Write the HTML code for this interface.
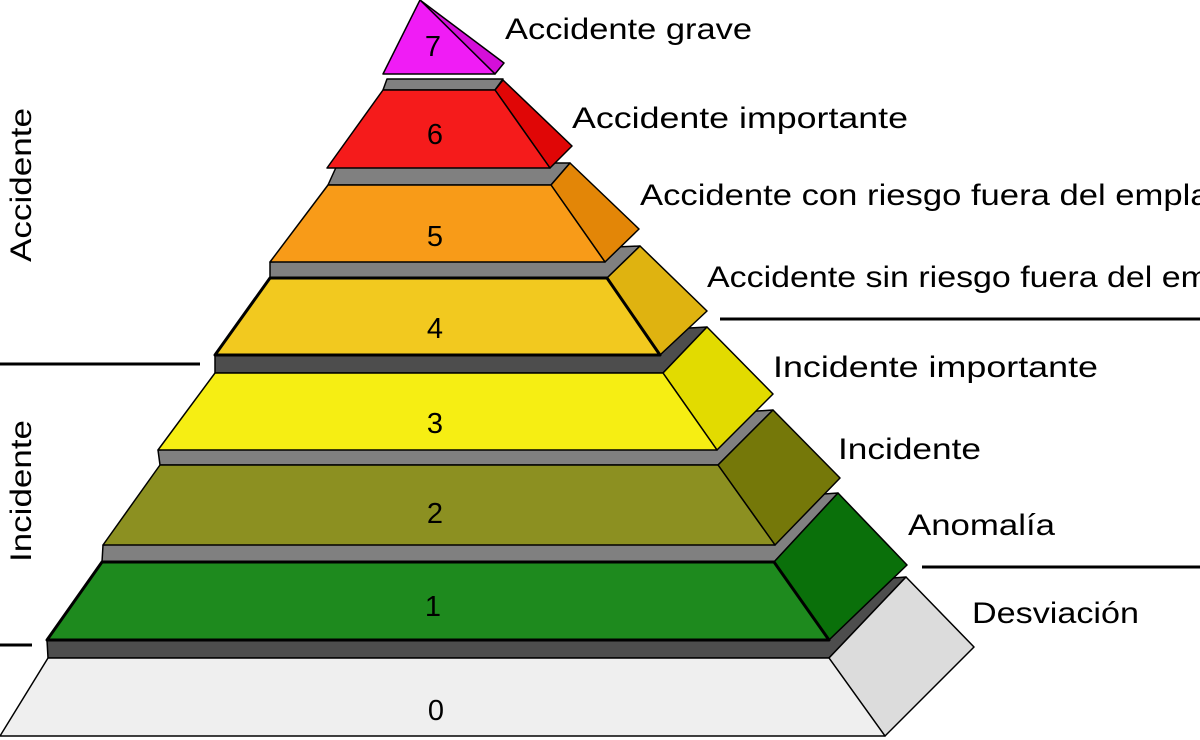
<!DOCTYPE html>
<html><head><meta charset="utf-8"><style>
html,body{margin:0;padding:0;background:#fff;}
svg{display:block;}
text{font-family:"Liberation Sans",sans-serif;fill:#000;}
</style></head><body>
<svg width="1200" height="740" viewBox="0 0 1200 740" xmlns="http://www.w3.org/2000/svg">
<g stroke="#000" stroke-width="1.5" stroke-linejoin="round">
<polygon points="48,658 829,658 906,577 47,640" fill="#4d4d4d"/>
<polygon points="829,658 885,736 974,647 906,577" fill="#dcdcdc"/>
<polygon points="48,658 829,658 885,736 0,736" fill="#efefef"/>
<polygon points="102,562 774,562 838,493 103,545" fill="#808080"/>
<polygon points="774,562 829,640 907,565 838,493" fill="#0a700a"/>
<polygon points="102,562 774,562 829,640 47,640" fill="#1e8a1e" stroke-width="3"/>
<polygon points="160,465 718,465 773,410 158,450" fill="#808080"/>
<polygon points="718,465 775,545 840,478 773,410" fill="#757809"/>
<polygon points="160,465 718,465 775,545 103,545" fill="#8c9021"/>
<polygon points="215,373 663,373 707,327 215,355" fill="#4d4d4d"/>
<polygon points="663,373 717,450 773,394 707,327" fill="#e2db00"/>
<polygon points="215,373 663,373 717,450 158,450" fill="#f6ee13"/>
<polygon points="270,278 607,278 640,246 270,262" fill="#808080"/>
<polygon points="607,278 660,355 707,311 640,246" fill="#dfb310"/>
<polygon points="270,278 607,278 660,355 215,355" fill="#f2c91f" stroke-width="3"/>
<polygon points="328,185 551,185 570,163 338,163" fill="#808080"/>
<polygon points="551,185 605,262 639,229 570,163" fill="#e38607"/>
<polygon points="328,185 551,185 605,262 270,262" fill="#f89b18"/>
<polygon points="383,90 495,90 503,79 387,79" fill="#808080"/>
<polygon points="495,90 550,168 572,146 503,80" fill="#e00606"/>
<polygon points="383,90 495,90 550,168 327,168" fill="#f51b1b"/>
<polygon points="420,0 495,74 504,63" fill="#d40fd8"/>
<polygon points="420,0 495,74 383,74" fill="#f01cf5"/>
</g>
<g font-size="29" text-anchor="middle">
<text x="433" y="56">7</text>
<text x="435" y="144">6</text>
<text x="435" y="246">5</text>
<text x="435" y="338">4</text>
<text x="435" y="433">3</text>
<text x="435" y="523">2</text>
<text x="433" y="616">1</text>
<text x="436" y="720">0</text>
</g>
<g font-size="30">
<text x="505" y="39" textLength="247" lengthAdjust="spacingAndGlyphs">Accidente grave</text>
<text x="572" y="128" textLength="336" lengthAdjust="spacingAndGlyphs">Accidente importante</text>
<text x="640" y="205" textLength="710" lengthAdjust="spacingAndGlyphs">Accidente con riesgo fuera del emplazamiento</text>
<text x="707" y="287" textLength="685" lengthAdjust="spacingAndGlyphs">Accidente sin riesgo fuera del emplazamiento</text>
<text x="773" y="377" textLength="325" lengthAdjust="spacingAndGlyphs">Incidente importante</text>
<text x="838" y="459" textLength="143" lengthAdjust="spacingAndGlyphs">Incidente</text>
<text x="908" y="535" textLength="147" lengthAdjust="spacingAndGlyphs">Anomalía</text>
<text x="972" y="623" textLength="167" lengthAdjust="spacingAndGlyphs">Desviación</text>
<text transform="translate(31,262) rotate(-90)" textLength="154" lengthAdjust="spacingAndGlyphs">Accidente</text>
<text transform="translate(31,562) rotate(-90)" textLength="142" lengthAdjust="spacingAndGlyphs">Incidente</text>
</g>
<g stroke="#000" stroke-width="3">
<line x1="720" y1="319" x2="1200" y2="319"/>
<line x1="922" y1="567" x2="1200" y2="567"/>
<line x1="0" y1="364" x2="200" y2="364"/>
<line x1="0" y1="645" x2="32" y2="645"/>
</g>
</svg>
</body></html>
